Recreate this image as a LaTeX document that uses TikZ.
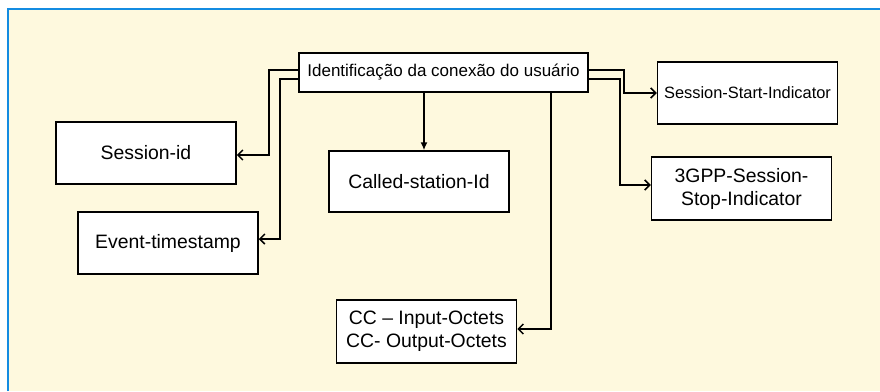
\documentclass[tikz,border=0pt]{standalone}
\usepackage{fontspec}
\setmainfont{Liberation Sans}
\usetikzlibrary{arrows.meta}
\definecolor{cream}{RGB}{254,249,222}
\definecolor{frameblue}{RGB}{20,140,225}

\tikzset{
  box/.style={draw, line width=1.5pt, fill=white, inner sep=0pt, align=center,
    minimum width=180pt, minimum height=62pt,
    font=\fontsize{19.4}{23}\selectfont},
  link/.style={line width=1.5pt, -{Straight Barb[length=5pt,width=10pt]}},
}

\begin{document}
\begin{tikzpicture}[x=1pt,y=-1pt]
  % Frame
  \useasboundingbox (0,0) rectangle (880,391);
  \fill[cream] (8,9) rectangle (880,391);
  \draw[frameblue, line width=2pt] (8,391) -- (8,9) -- (880,9);

  % Boxes
  \node[box, minimum width=289pt, minimum height=39pt,
    font=\fontsize{17}{20}\selectfont] (user) at (443.5,72.5)
    {Identificação da conexão do usuário};
  \node[box, font=\fontsize{16.4}{20}\selectfont] (start) at (747.5,93)
    {Session-Start-Indicator};
  \node[box, minimum height=63pt] (stop) at (741.5,188.5)
    {3GPP-Session-\\Stop-Indicator};
  \node[box] (sessid) at (146,153) {Session-id};
  \node[box] (event) at (168,243) {Event-timestamp};
  \node[box, minimum height=61pt] (called) at (419,181.5) {Called-station-Id};
  \node[box, minimum height=63pt] (cc) at (426.5,331.5)
    {CC -- Input-Octets\\CC- Output-Octets};

  % Connectors
  \draw[link] ([yshift=2.5pt]user.west) -| ([xshift=32pt,yshift=-2pt]sessid.east)
    -- ([yshift=-2pt]sessid.east);
  \draw[link] ([yshift=-6.5pt]user.west) -| ([xshift=21pt,yshift=4pt]event.east)
    -- ([yshift=4pt]event.east);
  \draw[line width=1.5pt, -{Latex[length=8pt,width=7pt]}]
    ([xshift=5pt]called.north |- user.south) -- ([xshift=5pt]called.north);
  \draw[link] ([xshift=107.5pt]user.south) |- ([yshift=2.5pt]cc.east);
  \draw[link] ([yshift=2.5pt]user.east) -| ([xshift=-33pt]start.west) -- (start.west);
  \draw[link] ([yshift=-6.5pt]user.east) -| ([xshift=-31pt,yshift=3.5pt]stop.west)
    -- ([yshift=3.5pt]stop.west);
\end{tikzpicture}
\end{document}
